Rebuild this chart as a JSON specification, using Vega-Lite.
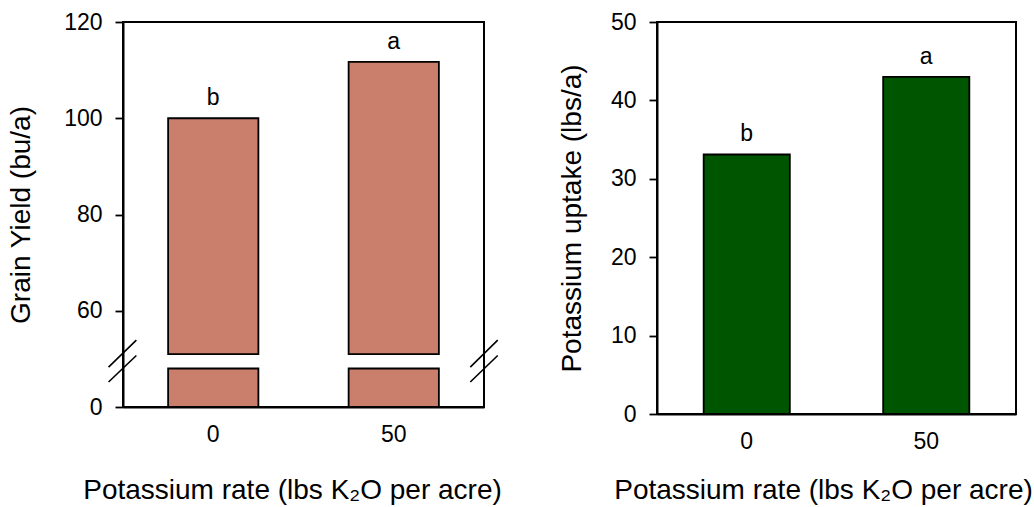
{
  "$schema": "https://vega.github.io/schema/vega-lite/v6.json",
  "padding": {"left": 6, "top": 10, "right": 0, "bottom": 0},
  "background": "white",
  "datasets": {
    "yield": [
      {"rate": "0", "value": 100, "letter": "b"},
      {"rate": "50", "value": 111.7, "letter": "a"}
    ],
    "uptake": [
      {"rate": "0", "value": 33.1, "letter": "b"},
      {"rate": "50", "value": 43, "letter": "a"}
    ],
    "breaks": [
      {"x": -4.0, "y": 48.3, "x2": 3.7, "y2": 53.9},
      {"x": -4.0, "y": 45.2, "x2": 3.7, "y2": 50.7},
      {"x": 96.2, "y": 48.3, "x2": 103.8, "y2": 53.9},
      {"x": 96.2, "y": 45.2, "x2": 103.8, "y2": 50.7}
    ]
  },
  "spacing": 54,
  "hconcat": [
    {
      "width": 361,
      "height": 385,
      "layer": [
        {
          "layer": [
            {
              "data": {"name": "yield"},
              "mark": {"type": "bar", "fill": "#C97F6C", "stroke": "black", "strokeWidth": 1.8},
              "encoding": {
                "x": {
                  "field": "rate", "type": "ordinal", "sort": ["0", "50"],
                  "scale": {"paddingInner": 0.5, "paddingOuter": 0.25},
                  "axis": {"title": "Potassium rate (lbs K₂O per acre)", "titlePadding": 30, "titleX": 169}
                },
                "y": {
                  "field": "value", "type": "quantitative",
                  "scale": {"domain": [40, 120], "nice": false, "zero": false},
                  "axis": {
                    "title": "Grain Yield (bu/a)",
                    "values": [40, 60, 80, 100, 120],
                    "labelExpr": "datum.value == 40 ? '0' : datum.label",
                    "titlePadding": 28.5
                  }
                },
                "y2": {"datum": 51}
              }
            },
            {
              "data": {"name": "yield"},
              "mark": {"type": "bar", "fill": "#C97F6C", "stroke": "black", "strokeWidth": 1.8},
              "encoding": {
                "x": {"field": "rate", "type": "ordinal", "sort": ["0", "50"]},
                "y": {"datum": 48},
                "y2": {"datum": 40}
              }
            },
            {
              "data": {"name": "yield"},
              "mark": {"type": "text", "fontSize": 23, "baseline": "alphabetic", "dy": -13, "color": "black"},
              "encoding": {
                "x": {"field": "rate", "type": "ordinal", "sort": ["0", "50"]},
                "y": {"field": "value", "type": "quantitative"},
                "text": {"field": "letter"}
              }
            }
          ]
        },
        {
          "data": {"name": "breaks"},
          "mark": {"type": "rule", "stroke": "black", "strokeWidth": 1.6, "clip": false},
          "encoding": {
            "x": {"field": "x", "type": "quantitative", "scale": {"domain": [0, 100], "nice": false, "zero": false}, "axis": null},
            "x2": {"field": "x2"},
            "y": {"field": "y", "type": "quantitative"},
            "y2": {"field": "y2"}
          }
        }
      ],
      "resolve": {"scale": {"x": "independent"}}
    },
    {
      "width": 359,
      "height": 392,
      "layer": [
        {
          "data": {"name": "uptake"},
          "mark": {"type": "bar", "fill": "#005500", "stroke": "black", "strokeWidth": 1.8},
          "encoding": {
            "x": {
              "field": "rate", "type": "ordinal", "sort": ["0", "50"],
              "scale": {"paddingInner": 0.52, "paddingOuter": 0.26},
              "axis": {"title": "Potassium rate (lbs K₂O per acre)", "titlePadding": 23, "titleX": 166}
            },
            "y": {
              "field": "value", "type": "quantitative",
              "scale": {"domain": [0, 50], "nice": false},
              "axis": {"title": "Potassium uptake (lbs/a)", "values": [0, 10, 20, 30, 40, 50], "titlePadding": 24}
            }
          }
        },
        {
          "data": {"name": "uptake"},
          "mark": {"type": "text", "fontSize": 23, "baseline": "alphabetic", "dy": -13, "color": "black"},
          "encoding": {
            "x": {"field": "rate", "type": "ordinal", "sort": ["0", "50"]},
            "y": {"field": "value", "type": "quantitative"},
            "text": {"field": "letter"}
          }
        }
      ]
    }
  ],
  "config": {
    "font": "Liberation Sans",
    "view": {"stroke": "black", "strokeWidth": 2},
    "axis": {
      "grid": false,
      "domainColor": "black",
      "domainWidth": 2,
      "tickColor": "black",
      "tickWidth": 1.8,
      "tickSize": 8,
      "labelColor": "black",
      "labelFontSize": 23,
      "labelFont": "Liberation Sans",
      "titleFont": "Liberation Sans",
      "titleFontSize": 28,
      "titleFontWeight": "normal",
      "titleColor": "black"
    },
    "axisX": {"ticks": false, "labelAngle": 0, "labelPadding": 16},
    "axisY": {"labelPadding": 13}
  }
}
